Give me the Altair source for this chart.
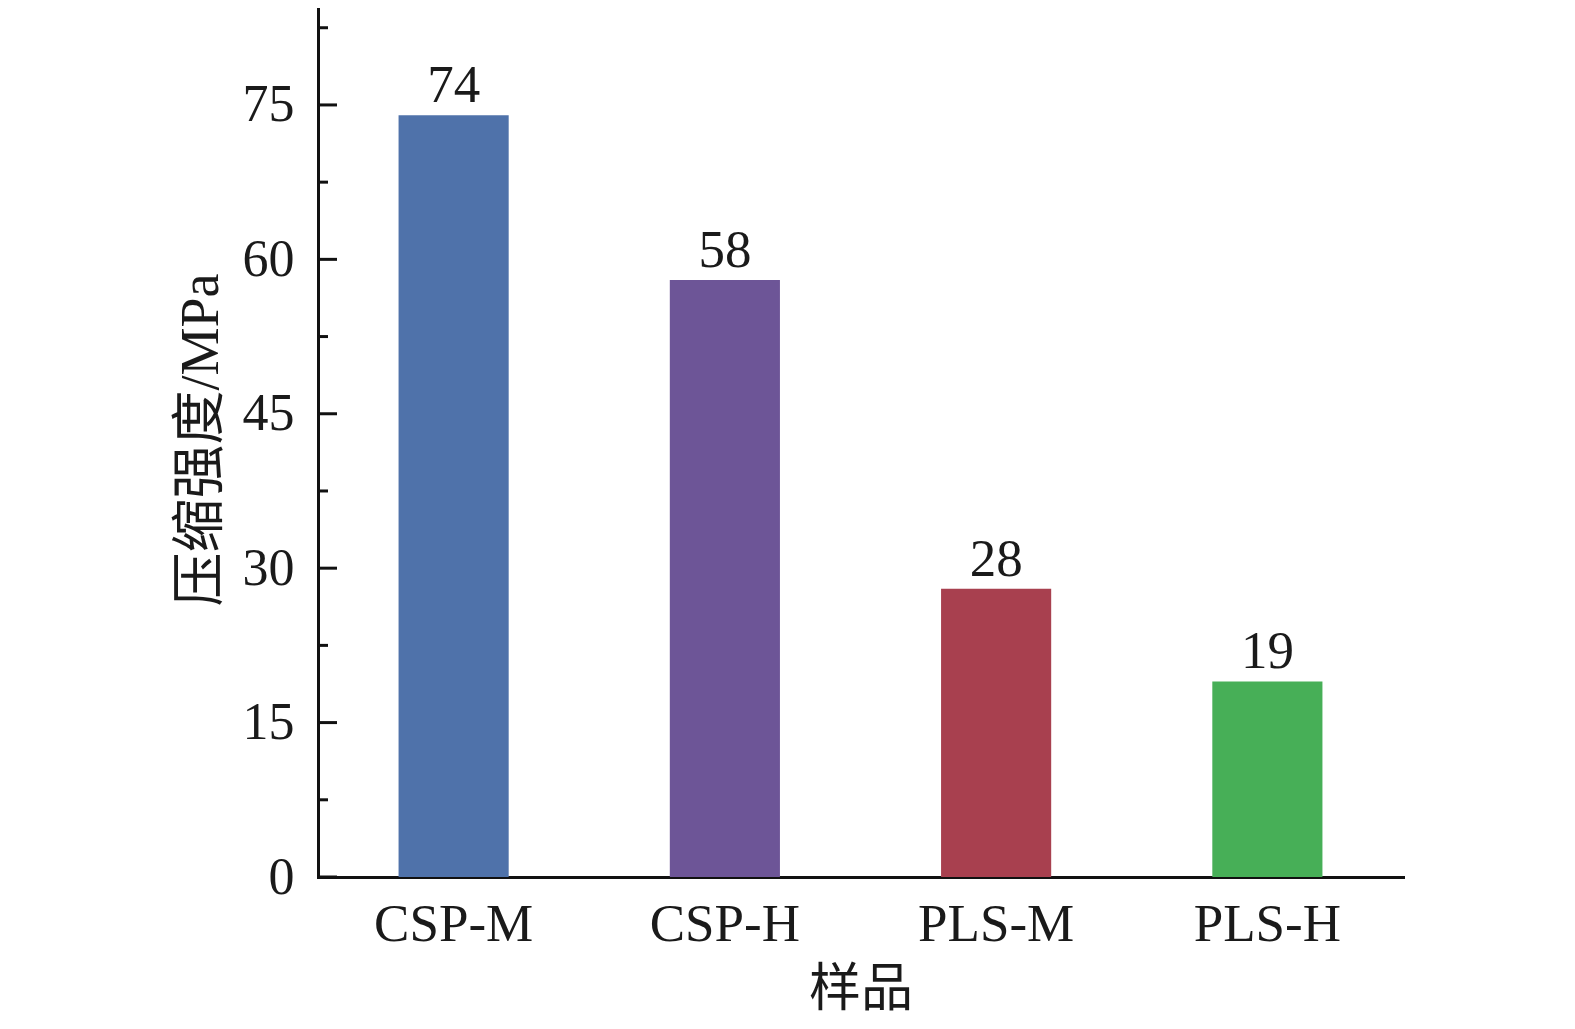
import altair as alt
import pandas as pd

samples = ["CSP-M", "CSP-H", "PLS-M", "PLS-H"]
strength = [74, 58, 28, 19]
colors = ["#4F72AA", "#6D5597", "#A8404F", "#47AF57"]
major_ticks = [0, 15, 30, 45, 60, 75]
minor_ticks = [7.5, 22.5, 37.5, 52.5, 67.5, 82.5]

df = pd.DataFrame({"sample": samples, "value": strength, "color": colors})
major_df = pd.DataFrame({"value": major_ticks})
minor_df = pd.DataFrame({"value": minor_ticks})

FONT = "Liberation Serif, Times New Roman, Noto Sans CJK SC"

X_ENC = alt.X("sample:N", sort=samples, title="样品",
              scale=alt.Scale(paddingInner=0.594, paddingOuter=0.297),
              axis=alt.Axis(labelAngle=0, ticks=False, labelPadding=21, titlePadding=13,
                            titleFontSize=52, labelFontSize=53))
Y_ENC = alt.Y("value:Q", title="压缩强度/MPa",
              scale=alt.Scale(domain=[0, 85], nice=False, zero=True),
              axis=alt.Axis(values=major_ticks, ticks=False, grid=False, labelPadding=24,
                            titlePadding=14, titleFontSize=54))

bars = alt.Chart(df).mark_bar().encode(
    x=X_ENC, y=Y_ENC,
    color=alt.Color("color:N", scale=None, legend=None),
)

labels = alt.Chart(df).mark_text(
    baseline="alphabetic", dy=-13, fontSize=53, font=FONT, color="#1a1a1a"
).encode(x=X_ENC, y=Y_ENC, text=alt.Text("value:Q"))

major = alt.Chart(major_df).mark_rule(color="#111111", strokeWidth=3).encode(
    y=Y_ENC, x=alt.value(0), x2=alt.value(19))

minor = alt.Chart(minor_df).mark_rule(color="#111111", strokeWidth=3).encode(
    y=Y_ENC, x=alt.value(0), x2=alt.value(10))

chart = alt.layer(bars, labels, major, minor).properties(
    width=1085, height=875,
    autosize=alt.AutoSizeParams(type="none"),
    padding={"left": 310, "top": -6, "right": 150, "bottom": 150},
).configure_view(stroke=None).configure_axis(
    labelFont=FONT, labelFontSize=52, labelColor="#1a1a1a",
    titleFont=FONT, titleFontWeight="normal", titleColor="#1a1a1a",
    domainColor="#111111", domainWidth=3, domainCap="square",
)

chart.save("out.html", embed_options={"renderer": "svg", "actions": False})
